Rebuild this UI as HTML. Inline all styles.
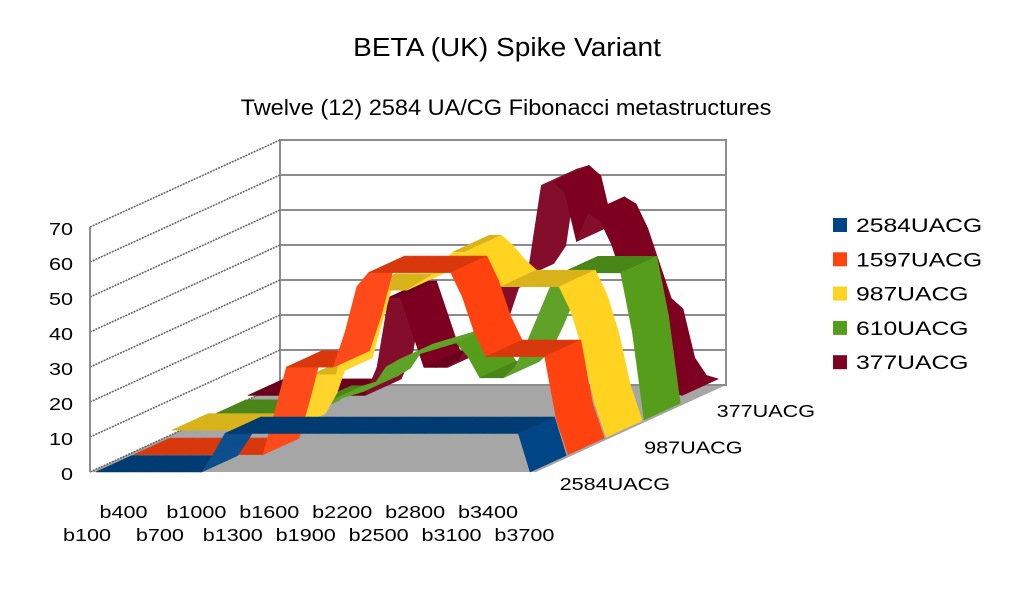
<!DOCTYPE html>
<html><head><meta charset="utf-8"><style>
body{margin:0;background:#fff;width:1012px;height:586px;overflow:hidden;font-family:"Liberation Sans",sans-serif}
svg text{font-family:"Liberation Sans",sans-serif;fill:#000}
</style></head><body>
<svg id="chart" width="1012" height="586" viewBox="0 0 1012 586" xmlns="http://www.w3.org/2000/svg">
<text transform="translate(507,56) scale(1.08,1)" font-size="26" text-anchor="middle">BETA (UK) Spike Variant</text>
<text transform="translate(506,115) scale(1.07,1)" font-size="22" text-anchor="middle">Twelve (12) 2584 UA/CG Fibonacci metastructures</text>
<g id="walls"></g>
<g id="ribbons"></g>
<g id="axes"></g>
<g id="legend"></g>
</svg>
<script>
const seriesNames=["2584UACG","1597UACG","987UACG","610UACG","377UACG"];
const seriesColors=["#004586","#ff420e","#ffd320","#579d1c","#7e0021"];
const s2584=[0,0,0,0,0,0,0,0,0,0,5,11,11,11,11,11,11,11,11,11,11,11,11,11,11,11,11,11,11,11,11,11,11,11,11,11,11,0];
const s1597=[0,0,0,0,0,0,0,0,0,0,0,0,12,25,25,25,25,25,35,48,52,52,52,52,52,52,52,52,45,35,28,28,28,28,28,28,10,0];
const s987=[2,2,2,2,2,2,2,2,2,2,2,8,18,18,18,30,42,42,42,42,42,44,46,50,53,53,50,46,43,43,43,43,43,43,36,25,10,0];
const s610=[1,1,1,1,1,1,1,1,1,5,5,6,7,8,10,15,17,18,19,20,21,22,18,12,12,12,15,22,30,38,42,42,42,42,42,42,25,0];
const s377=[2,2,2,2,2,2,2,2,2,2,2,10,30,30,20,10,10,10,12,18,28,30,35,35,40,62,63,60,46,54,52,45,35,25,22,8,3,2];
const seriesData=[s2584,s1597,s987,s610,s377];
const yTicks=[0,10,20,30,40,50,60,70];
const catLabels=["b100","b400","b700","b1000","b1300","b1600","b1900","b2200","b2500","b2800","b3100","b3400","b3700"];
const depthLabels=["2584UACG","987UACG","377UACG"];

const NS="http://www.w3.org/2000/svg";
const X0=90,Y0=472,W=446,DX=190,DY=-87,PY=3.5,NC=38,YMAX=70;
function P(i,v,z){return [X0+(i+0.5)/NC*W+z*DX, Y0-v*PY+z*DY];}
function el(tag,attrs,parent){const e=document.createElementNS(NS,tag);for(const k in attrs)e.setAttribute(k,attrs[k]);parent.appendChild(e);return e;}
function pts(a){return a.map(p=>p[0].toFixed(1)+","+p[1].toFixed(1)).join(" ");}
function shade(hex,f){const n=parseInt(hex.slice(1),16);let r=n>>16,g=(n>>8)&255,b=n&255;const c=x=>Math.max(0,Math.min(255,Math.round(f>1?x+(255-x)*(f-1):x*f)));return "rgb("+c(r)+","+c(g)+","+c(b)+")";}

const walls=document.getElementById("walls");
const bw=el("rect",{x:X0+DX,y:Y0+DY-YMAX*PY,width:W,height:YMAX*PY,fill:"#fff",stroke:"#8c8c8c","stroke-width":2},walls);


const fl=el("polygon",{points:pts([[X0,Y0],[X0+W,Y0],[X0+W+DX,Y0+DY],[X0+DX,Y0+DY]]),fill:"#a6a6a6"},walls);


yTicks.forEach(t=>{
  const yb=Y0+DY-t*PY, yf=Y0-t*PY;
  const g1=el("line",{x1:X0+DX,y1:yb,x2:X0+DX+W,y2:yb,stroke:"#8c8c8c","stroke-width":2},walls);
  
  
  const g2=el("line",{x1:X0,y1:yf,x2:X0+DX,y2:yb,stroke:"#666","stroke-width":1.6,"stroke-dasharray":"2 1"},walls);
  
  
  const lb=el("text",{transform:"translate(73,"+(yf+8)+") scale(1.2,1)","font-size":18,"text-anchor":"end"},walls);
  lb.textContent=t;
  
  
});
const le=el("line",{x1:X0,y1:Y0,x2:X0,y2:Y0-YMAX*PY,stroke:"#8c8c8c","stroke-width":2},walls);



const rib=document.getElementById("ribbons");
for(let s=seriesData.length-1;s>=0;s--){
  const d=seriesData[s], z0=s/5, z1=s/5+0.19, col=seriesColors[s];
  const g=el("g",{},rib);
  
  
  for(let i=0;i<d.length-1;i++){
    const a=P(i,d[i],z0),b=P(i+1,d[i+1],z0),c=P(i+1,d[i+1],z1),e=P(i,d[i],z1);
    const slope=d[i+1]-d[i];
    const f=slope===0?0.85:(slope>0?1.05:1.0);
    const q=el("polygon",{points:pts([a,b,c,e]),fill:shade(col,f),stroke:shade(col,f),"stroke-width":0.6},g);
    
    
  }
}

const ax=document.getElementById("axes");
catLabels.forEach((l,k)=>{
  const b=parseInt(l.slice(1));
  const x=87+(b-100)/300*36.45;
  const t=el("text",{transform:"translate("+x.toFixed(1)+","+(k%2?518:541)+") scale(1.2,1)","font-size":18,"text-anchor":"middle"},ax);
  t.textContent=l;
  
  
});
depthLabels.forEach((l,k)=>{
  const x=670+k*72.5, y=490-k*36.5;
  const t=el("text",{transform:"translate("+x+","+y+") scale(1.2,1)","font-size":18,"text-anchor":"end"},ax);
  t.textContent=l;
  
  
});

const lg=document.getElementById("legend");
seriesNames.forEach((n,k)=>{
  const y=225+k*34.3;
  const g=el("g",{},lg);
  
  
  el("rect",{x:833,y:y-7,width:14,height:14,fill:seriesColors[k]},g);
  const t=el("text",{transform:"translate(856,"+(y+7)+") scale(1.3,1)","font-size":19},g);
  t.textContent=n;
});
</script>
</body></html>
